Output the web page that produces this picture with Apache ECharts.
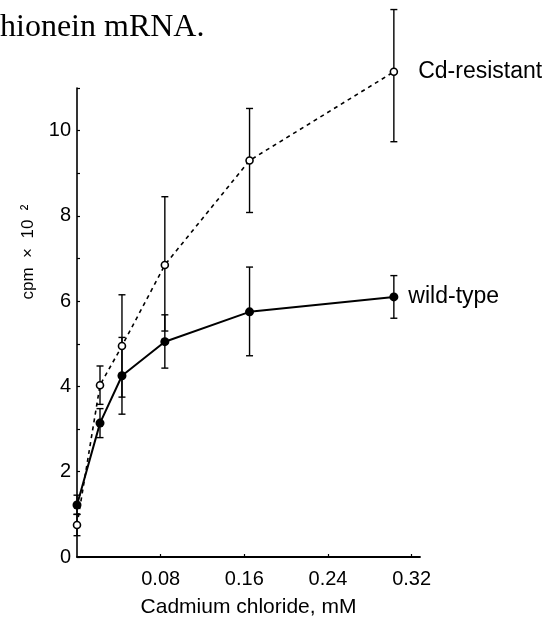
<!DOCTYPE html>
<html><head><meta charset="utf-8">
<script src="https://cdn.jsdelivr.net/npm/echarts@6/dist/echarts.min.js"></script>
<style>html,body{margin:0;padding:0;background:#fff}#c{width:550px;height:622px}</style>
</head><body><div id="c"></div>
<script>
// Cadmium chloride concentration (mM)
const doseX = [0, 0.022, 0.043, 0.084, 0.165, 0.303];
// cpm x 10^2
const resistantY  = [0.75, 4.03, 4.95, 6.85, 9.30, 11.38];
const resistantLo = [0.50, 3.58, 3.75, 5.30, 8.08, 9.74];
const resistantHi = [1.00, 4.48, 6.15, 8.45, 10.52, 12.84];
const wildY  = [1.22, 3.14, 4.25, 5.05, 5.75, 6.10];
const wildLo = [1.00, 2.80, 3.35, 4.43, 4.72, 5.60];
const wildHi = [1.45, 3.48, 5.15, 5.68, 6.80, 6.60];
const xTicks = [0.08, 0.16, 0.24, 0.32];
const yTicks = [0, 2, 4, 6, 8, 10];
const seriesNames = ['Cd-resistant', 'wild-type'];

const chart = echarts.init(document.getElementById('c'));

function pts(ys, name) {
  return doseX.map((x, i) => {
    const d = { value: [x, ys[i]] };
    if (i === doseX.length - 1) {
      d.label = { show: true, formatter: name };
    }
    return d;
  });
}
function errData(lo, hi) { return doseX.map((x, i) => [x, lo[i], hi[i]]); }

function errRender(params, api) {
  const x = api.value(0);
  const p1 = api.coord([x, api.value(1)]);
  const p2 = api.coord([x, api.value(2)]);
  const w = 3.5;
  const st = { stroke: '#000', lineWidth: 1.4 };
  return {
    type: 'group',
    children: [
      { type: 'line', shape: { x1: p1[0], y1: p1[1], x2: p2[0], y2: p2[1] }, style: st },
      { type: 'line', shape: { x1: p1[0] - w, y1: p1[1], x2: p1[0] + w, y2: p1[1] }, style: st },
      { type: 'line', shape: { x1: p2[0] - w, y1: p2[1], x2: p2[0] + w, y2: p2[1] }, style: st }
    ]
  };
}

const axisFont = 'Liberation Sans, Arial, sans-serif';
const labelFont = 'Liberation Sans, Arial, sans-serif';

chart.setOption({
  animation: false,
  backgroundColor: '#fff',
  graphic: [
    { type: 'text', left: 0, top: 12, style: { text: 'hionein mRNA.', font: '32px "Liberation Serif", "Times New Roman", serif', fill: '#000' } },
    { type: 'text', x: 28, y: 252, rotation: Math.PI / 2,
      style: { text: 'cpm  ×  10  ²', font: '17px "Liberation Sans", Arial, sans-serif', fill: '#000', align: 'center', verticalAlign: 'middle' } }
  ],
  grid: { left: 77, top: 88, width: 343, height: 469, containLabel: false, outerBoundsMode: 'none' },
  xAxis: {
    type: 'value', min: 0, max: 0.328, interval: 0.08,
    name: 'Cadmium chloride, mM', nameLocation: 'middle', nameGap: 40,
    nameTextStyle: { fontFamily: axisFont, fontSize: 21, color: '#000' },
    axisLine: { show: true, lineStyle: { color: '#000', width: 1.8 } },
    axisTick: { show: true, inside: true, length: 3, lineStyle: { color: '#000', width: 1.2 } },
    splitLine: { show: false },
    axisLabel: {
      showMinLabel: false, showMaxLabel: false, margin: 12,
      fontFamily: axisFont, fontSize: 20, color: '#000',
      formatter: v => {
        const t = xTicks.find(k => Math.abs(k - v) < 1e-6);
        return t === undefined ? '' : t.toFixed(2);
      }
    }
  },
  yAxis: {
    type: 'value', min: 0, max: 11, interval: 1,
    axisLine: { show: true, lineStyle: { color: '#000', width: 1.6 } },
    axisTick: { show: true, inside: true, length: 3, lineStyle: { color: '#000', width: 1.2 } },
    splitLine: { show: false },
    axisLabel: {
      margin: 6, fontFamily: axisFont, fontSize: 20, color: '#000',
      formatter: v => (yTicks.indexOf(Math.round(v)) >= 0 && Math.abs(v - Math.round(v)) < 1e-6) ? String(Math.round(v)) : ''
    }
  },
  series: [
    { type: 'custom', renderItem: errRender, data: errData(resistantLo, resistantHi), z: 2, clip: false, encode: { x: 0, y: [1, 2] } },
    { type: 'custom', renderItem: errRender, data: errData(wildLo, wildHi), z: 2, clip: false, encode: { x: 0, y: [1, 2] } },
    {
      name: seriesNames[0], type: 'line', data: pts(resistantY, seriesNames[0]), z: 3,
      symbol: 'circle', symbolSize: 7, showAllSymbol: true,
      lineStyle: { color: '#000', width: 1.6, type: [4, 4] },
      itemStyle: { color: '#fff', borderColor: '#000', borderWidth: 1.6 },
      label: { position: 'right', distance: 20, fontFamily: labelFont, fontSize: 23, color: '#000' },
      clip: false
    },
    {
      name: seriesNames[1], type: 'line', data: pts(wildY, seriesNames[1]), z: 4,
      symbol: 'circle', symbolSize: 9, showAllSymbol: true,
      lineStyle: { color: '#000', width: 2 },
      itemStyle: { color: '#000', borderColor: '#000', borderWidth: 0 },
      label: { position: 'right', distance: 10, fontFamily: labelFont, fontSize: 23, color: '#000' },
      clip: false
    }
  ]
});
</script></body></html>
